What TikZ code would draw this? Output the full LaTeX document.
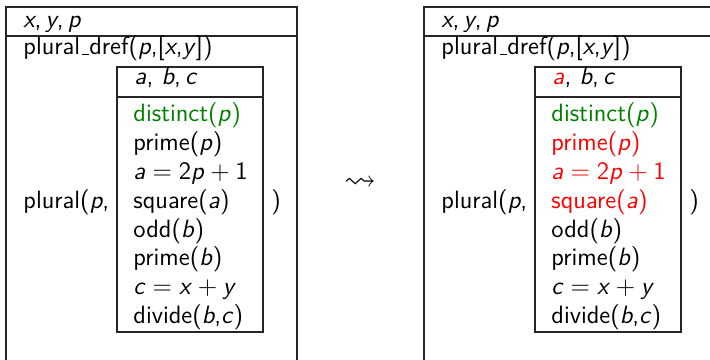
\documentclass[tikz,border=0pt]{standalone}
\usepackage{amssymb}
\definecolor{dgreen}{RGB}{0,128,0}
\definecolor{hired}{RGB}{255,0,0}
\newcommand\mv[1]{\textit{#1}}
\newcommand\eqsp{\hspace{0.2778em}}
\newcommand\plsp{\hspace{0.2222em}}
\newcommand\lowbar{\leavevmode\kern.06em\vbox{\hrule width.3em}}
\begin{document}
\begin{tikzpicture}[x=0.4706pt,y=-0.4706pt,
  font=\fontsize{11.8}{14}\selectfont\sffamily,
  txt/.style={inner sep=0pt, anchor=base west},
  box/.style={draw=black!85, line width=0.55pt}]
\useasboundingbox (0,0) rectangle (710,360);
\clip (0,0) rectangle (710,360);
\foreach \s/\o/\c in {L/0/black, R/418/hired} {
  % outer box (open at the bottom, cut by the page edge)
  \draw[box] (\o+6,370) -- (\o+6,7) -- (\o+297,7) -- (\o+297,370);
  \draw[box] (\o+6,36) -- (\o+297,36);
  % inner box
  \draw[box] (\o+117,67) rectangle (\o+263,332);
  \draw[box] (\o+117,97) -- (\o+263,97);
  % texts
  \node[txt] (\s-vars) at (\o+23,28) {\mv{x},\,\mv{y},\,\mv{p}};
  \node[txt] (\s-dref) at (\o+23,55) {plural\lowbar dref(\mv{p},[\mv{x},\mv{y}])};
  \node[txt] (\s-abc) at (\o+134,85) {\textcolor{\c}{\mv{a}},\ \mv{b},\,\mv{c}};
  \node[txt, text=dgreen] (\s-r1) at (\o+133,122) {distinct(\mv{p})};
  \node[txt, text=\c] (\s-r2) at (\o+133,150.8) {prime(\mv{p})};
  \node[txt, text=\c] (\s-r3) at (\o+133,179.6) {\mv{a}\eqsp$=$\eqsp2\mv{p}\plsp$+$\plsp1};
  \node[txt, text=\c] (\s-r4) at (\o+133,208.4) {square(\mv{a})};
  \node[txt] (\s-r5) at (\o+133,237.2) {odd(\mv{b})};
  \node[txt] (\s-r6) at (\o+133,266) {prime(\mv{b})};
  \node[txt] (\s-r7) at (\o+133,294.8) {\mv{c}\eqsp$=$\eqsp\mv{x}\plsp$+$\plsp\mv{y}};
  \node[txt] (\s-r8) at (\o+133,323.6) {divide(\mv{b},\mv{c})};
  \node[txt] (\s-plural) at (\o+23,208.4) {plural(\mv{p},};
  \node[txt] (\s-close) at (\o+271,208.4) {)};
}
\node[inner sep=0pt, font=\fontsize{15}{18}\selectfont] (arrow) at (360,183) {$\leadsto$};
\end{tikzpicture}
\end{document}
